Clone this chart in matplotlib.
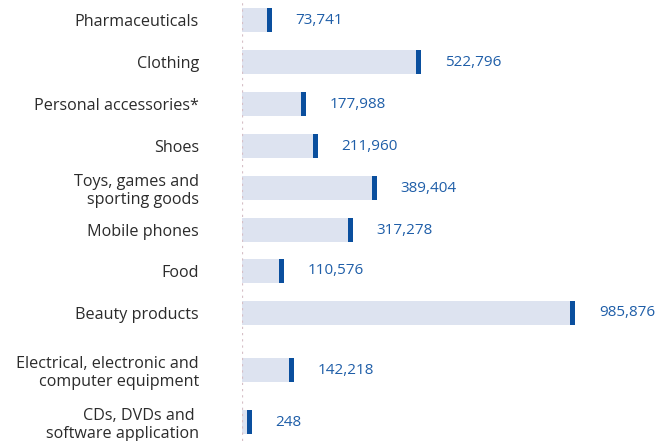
import matplotlib
matplotlib.use("Agg")
import matplotlib.pyplot as plt

categories = ["Pharmaceuticals", "Clothing", "Personal accessories*", "Shoes",
              "Toys, games and\nsporting goods", "Mobile phones", "Food",
              "Beauty products", "Electrical, electronic and\ncomputer equipment",
              "CDs, DVDs and \nsoftware application"]
values = [73741, 522796, 177988, 211960, 389404, 317278, 110576, 985876, 142218, 248]
value_labels = ["73,741", "522,796", "177,988", "211,960", "389,404", "317,278",
                "110,576", "985,876", "142,218", "248"]

# layout (pixel rows of the reference)
ypos = [20, 62, 104, 146, 188, 230, 271, 313, 370, 422]

plt.rcParams['font.family'] = ['Open Sans', 'DejaVu Sans']

fig = plt.figure(figsize=(6.6, 4.41), dpi=100)
ax = fig.add_axes([242/660, 0, 418/660, 1])
W, H = 660, 441
ax.set_ylim(H, 0)
xmax = 418 / 3.33e-4
ax.set_xlim(0, xmax)

light = "#dde3f0"
dark = "#0a4f9e"
m = 5 / 3.33e-4
h = 24
for y, v, lab in zip(ypos, values, value_labels):
    bw = max(v, m)
    ax.barh(y, bw, height=h, color=light, left=0, zorder=2)
    ax.barh(y, m, height=h, left=bw, color=dark, zorder=3)
    ax.annotate(lab, xy=(bw + m, y), xytext=(17, 0), textcoords="offset points",
                va="center", ha="left", fontsize=11, color="#1f5ea8")

ax.axvline(0, color="#d6bfc6", linestyle=(0, (1, 1.8)), linewidth=1.6, zorder=4)

ax.set_yticks(ypos)
ax.set_yticklabels(categories, fontsize=11.6, color="#2b2b2b", linespacing=1.2)
ax.tick_params(axis="y", length=0, pad=31)
ax.set_xticks([])
for s in ax.spines.values():
    s.set_visible(False)

fig.savefig("out.png", dpi=100)
